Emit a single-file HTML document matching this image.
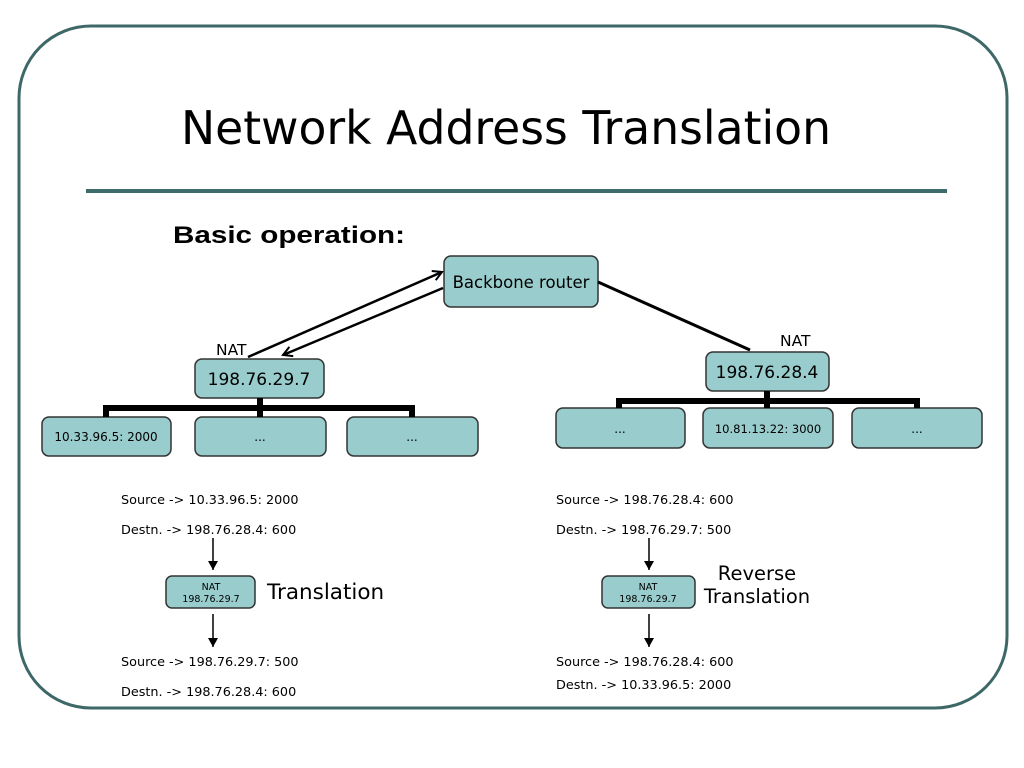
<!DOCTYPE html>
<html><head><meta charset="utf-8"><style>
html,body{margin:0;padding:0;background:#fff;}
svg{display:block;}
text{font-family:"DejaVu Sans","Liberation Sans",sans-serif;fill:#000;}
</style></head><body>
<svg width="1024" height="768" viewBox="0 0 1024 768" xmlns="http://www.w3.org/2000/svg">
<defs>
<marker id="oa" markerWidth="12" markerHeight="12" refX="10" refY="6" orient="auto" markerUnits="userSpaceOnUse">
<path d="M1,1 L10,6 L1,11" fill="none" stroke="#000" stroke-width="2"/></marker>
<marker id="fa" markerWidth="10" markerHeight="10" refX="9" refY="5" orient="auto" markerUnits="userSpaceOnUse">
<path d="M0,0 L9,5 L0,10 z" fill="#000"/></marker>
</defs>
<rect x="19" y="26" width="988" height="682" rx="72" fill="#fff" stroke="#3e6868" stroke-width="3"/>
<text x="181" y="144" font-size="46" textLength="650" lengthAdjust="spacingAndGlyphs">Network Address Translation</text>
<rect x="86" y="189" width="861" height="4" fill="#3e6b6b"/>
<text x="173" y="243" font-size="24" font-weight="bold" textLength="232" lengthAdjust="spacingAndGlyphs" style="font-family:'Liberation Sans',sans-serif">Basic operation:</text>

<g fill="#99cccc" stroke="#333" stroke-width="1.5">
<rect x="444" y="256" width="154" height="51" rx="7"/>
<rect x="195" y="359" width="129" height="39" rx="7"/>
<rect x="42" y="417" width="129" height="39" rx="7"/>
<rect x="195" y="417" width="131" height="39" rx="7"/>
<rect x="347" y="417" width="131" height="39" rx="7"/>
<rect x="706" y="352" width="123" height="39" rx="7"/>
<rect x="556" y="408" width="129" height="40" rx="7"/>
<rect x="703" y="408" width="130" height="40" rx="7"/>
<rect x="852" y="408" width="130" height="40" rx="7"/>
<rect x="166" y="576" width="89" height="32" rx="6"/>
<rect x="602" y="576" width="93" height="32" rx="6"/>
</g>

<g stroke="#000" stroke-width="6" fill="none">
<path d="M260,398 V408 M106,417 V408 H412 V417 M260,408 V417"/>
<path d="M767,391 V401 M619,408 V401 H917 V408 M767,401 V408"/>
</g>
<line x1="598" y1="282" x2="750" y2="350" stroke="#000" stroke-width="3"/>
<line x1="248" y1="357" x2="442" y2="272" stroke="#000" stroke-width="2.5" marker-end="url(#oa)"/>
<line x1="443" y1="288" x2="283" y2="355" stroke="#000" stroke-width="2.5" marker-end="url(#oa)"/>

<g stroke="#000" stroke-width="1.5">
<line x1="213" y1="538" x2="213" y2="570" marker-end="url(#fa)"/>
<line x1="213" y1="614" x2="213" y2="647" marker-end="url(#fa)"/>
<line x1="649" y1="538" x2="649" y2="570" marker-end="url(#fa)"/>
<line x1="649" y1="614" x2="649" y2="647" marker-end="url(#fa)"/>
</g>

<text x="521" y="288" text-anchor="middle" font-size="16.5">Backbone router</text>
<text x="259" y="385" text-anchor="middle" font-size="17">198.76.29.7</text>
<text x="767" y="378" text-anchor="middle" font-size="17">198.76.28.4</text>
<text x="216" y="355" font-size="15.5">NAT</text>
<text x="780" y="346" font-size="15.5">NAT</text>
<text x="106" y="441" text-anchor="middle" font-size="12">10.33.96.5: 2000</text>
<text x="260" y="441" text-anchor="middle" font-size="12">...</text>
<text x="412" y="441" text-anchor="middle" font-size="12">...</text>
<text x="620" y="433" text-anchor="middle" font-size="12">...</text>
<text x="768" y="433" text-anchor="middle" font-size="11.5">10.81.13.22: 3000</text>
<text x="917" y="433" text-anchor="middle" font-size="12">...</text>

<g font-size="12.8">
<text x="121" y="504">Source -&gt; 10.33.96.5: 2000</text>
<text x="121" y="534">Destn. -&gt; 198.76.28.4: 600</text>
<text x="121" y="666">Source -&gt; 198.76.29.7: 500</text>
<text x="121" y="696">Destn. -&gt; 198.76.28.4: 600</text>
<text x="556" y="504">Source -&gt; 198.76.28.4: 600</text>
<text x="556" y="534">Destn. -&gt; 198.76.29.7: 500</text>
<text x="556" y="666">Source -&gt; 198.76.28.4: 600</text>
<text x="556" y="689">Destn. -&gt; 10.33.96.5: 2000</text>
</g>
<g font-size="9.5" text-anchor="middle">
<text x="211" y="590">NAT</text>
<text x="211" y="602">198.76.29.7</text>
<text x="648" y="590">NAT</text>
<text x="648" y="602">198.76.29.7</text>
</g>
<text x="267" y="599" font-size="21.5">Translation</text>
<text x="757" y="580" text-anchor="middle" font-size="19.5">Reverse</text>
<text x="757" y="603" text-anchor="middle" font-size="19.5">Translation</text>
</svg>
</body></html>
